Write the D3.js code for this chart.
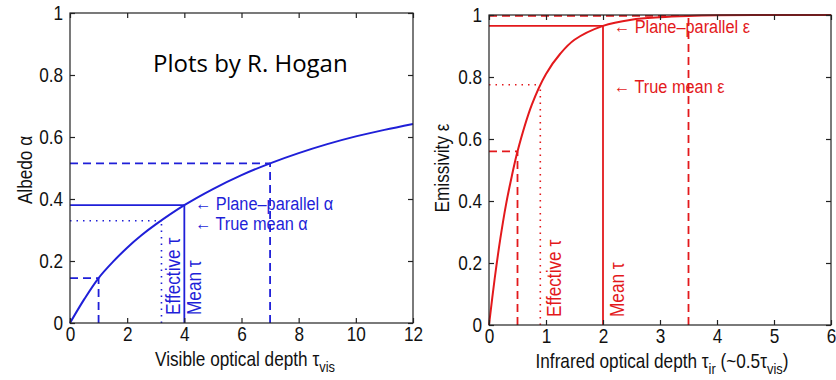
<!DOCTYPE html>
<html>
<head>
<meta charset="utf-8">
<script src="https://cdn.jsdelivr.net/npm/d3@7"></script>
<style>
  body { margin: 0; background: #fff; }
  svg text { font-family: "Liberation Sans", Arial, sans-serif; }
</style>
</head>
<body>
<div id="chart"></div>
<script>
// ---- data ----
const albedoTau = [0, 0.5, 1, 1.5, 2, 2.5, 3, 4, 5, 6, 7, 8, 9, 10, 11, 12];
const albedoVal = [0, 0.077, 0.145, 0.197, 0.243, 0.283, 0.318, 0.38, 0.432, 0.477, 0.515, 0.548, 0.577, 0.602, 0.623, 0.642];

const emisTau = [0, 0.1, 0.2, 0.3, 0.4, 0.5, 0.75, 1, 1.25, 1.5, 2, 2.5, 3, 3.5, 4, 5, 6];
const emisVal = [0, 0.15, 0.28, 0.39, 0.48, 0.56, 0.71, 0.81, 0.875, 0.92, 0.965, 0.985, 0.993, 0.997, 0.999, 1, 1];

const xTicksVis = [0, 2, 4, 6, 8, 10, 12];
const xTicksIr = [0, 1, 2, 3, 4, 5, 6];
const yTicks = [0, 0.2, 0.4, 0.6, 0.8, 1];

// guide lines: [tau, value, style]
const albedoGuides = [[1, 0.145, 'dash'], [7, 0.515, 'dash'], [4, 0.38, 'solid'], [3.2, 0.33, 'dot']];
const emisGuides = [[0.5, 0.56, 'dash'], [3.5, 0.997, 'dash'], [2, 0.965, 'solid'], [0.9, 0.775, 'dot']];

const SX = 0.86; // the original text is a bit narrow
const FS = 20;

const svg = d3.select('#chart').append('svg')
    .attr('width', 836)
    .attr('height', 380);

function drawPanel(cfg) {
    const x = d3.scaleLinear().domain(cfg.xDomain).range([cfg.left, cfg.right]);
    const y = d3.scaleLinear().domain([0, 1]).range([cfg.bottom, cfg.top]);
    const g = svg.append('g');
    const dash = { dash: '8,5', dot: '1.5,5', solid: null };

    // guides
    cfg.guides.forEach(([t, v, s]) => {
        g.append('line')
            .attr('x1', x(0)).attr('x2', x(t))
            .attr('y1', y(v)).attr('y2', y(v))
            .attr('stroke', cfg.color).attr('stroke-width', s === 'dot' ? 1.6 : 1.8)
            .attr('stroke-dasharray', dash[s]);
        g.append('line')
            .attr('x1', x(t)).attr('x2', x(t))
            .attr('y1', y(0)).attr('y2', y(v))
            .attr('stroke', cfg.color).attr('stroke-width', s === 'dot' ? 1.6 : 1.8)
            .attr('stroke-dasharray', dash[s]);
    });

    // curve
    const line = d3.line()
        .x((d, i) => x(cfg.xs[i]))
        .y(d => y(d))
        .curve(d3.curveCatmullRom);
    g.append('path')
        .datum(cfg.ys)
        .attr('d', line)
        .attr('fill', 'none')
        .attr('stroke', cfg.color)
        .attr('stroke-width', 2);

    // box and inward ticks
    g.append('rect')
        .attr('x', cfg.left).attr('y', cfg.top)
        .attr('width', cfg.right - cfg.left).attr('height', cfg.bottom - cfg.top)
        .attr('fill', 'none').attr('stroke', '#222').attr('stroke-width', 1.2);

    const axB = g.append('g').attr('transform', `translate(0,${cfg.bottom})`)
        .call(d3.axisBottom(x).tickValues(cfg.xTicks).tickSizeInner(-5).tickSizeOuter(0).tickPadding(4).tickFormat(d3.format('')));
    const axT = g.append('g').attr('transform', `translate(0,${cfg.top})`)
        .call(d3.axisTop(x).tickValues(cfg.xTicks).tickSizeInner(-5).tickSizeOuter(0).tickFormat(''));
    const axL = g.append('g').attr('transform', `translate(${cfg.left},0)`)
        .call(d3.axisLeft(y).tickValues(yTicks).tickSizeInner(-5).tickSizeOuter(0).tickPadding(8).tickFormat(d3.format('')));
    const axR = g.append('g').attr('transform', `translate(${cfg.right},0)`)
        .call(d3.axisRight(y).tickValues(yTicks).tickSizeInner(-5).tickSizeOuter(0).tickFormat(''));
    [axB, axT, axL, axR].forEach(a => {
        a.select('.domain').remove();
        a.selectAll('line').attr('stroke', '#222').attr('stroke-width', 1.2);
        a.selectAll('text').attr('font-size', 20).attr('fill', '#111')
            .attr('transform', `scale(${SX},1)`)
            .style('font-family', '"Liberation Sans", Arial, sans-serif');
    });

    // annotations
    cfg.notes.forEach(n => {
        g.append('text')
            .attr('transform', `translate(${x(n.t)},${y(n.v)}) scale(${SX},1)`)
            .attr('dy', '0.35em')
            .attr('font-size', 19).attr('fill', cfg.color)
            .text(n.text);
    });
    cfg.vnotes.forEach(n => {
        g.append('text')
            .attr('transform', `translate(${x(n.t)},${cfg.bottom - 8}) rotate(-90) scale(${SX},1)`)
            .attr('font-size', FS).attr('fill', cfg.color)
            .text(n.text);
    });

    // axis titles
    g.append('text')
        .attr('transform', `translate(${cfg.yTitleX},${cfg.yTitleY}) rotate(-90) scale(${SX},1)`)
        .attr('text-anchor', 'middle').attr('font-size', FS).attr('fill', '#111')
        .text(cfg.yTitle);
    const xt = g.append('text')
        .attr('transform', `translate(${cfg.xTitleX},${cfg.bottom + 43}) scale(${SX},1)`)
        .attr('text-anchor', 'middle').attr('font-size', FS).attr('fill', '#111');
    cfg.xTitle.forEach(p => {
        xt.append('tspan')
            .attr('baseline-shift', p.sub ? -6 : 0)
            .attr('font-size', p.sub ? 15 : FS)
            .text(p.s);
    });
}

drawPanel({
    left: 70, right: 413, top: 13, bottom: 323,
    xDomain: [0, 12], xTicks: xTicksVis,
    xs: albedoTau, ys: albedoVal, guides: albedoGuides,
    color: '#1f1fd8',
    notes: [
        { t: 4.37, v: 0.385, text: '← Plane–parallel α' },
        { t: 4.37, v: 0.322, text: '← True mean α' }
    ],
    vnotes: [
        { t: 3.85, text: 'Effective τ' },
        { t: 4.57, text: 'Mean τ' }
    ],
    yTitle: 'Albedo α', yTitleX: 32, yTitleY: 170,
    xTitle: [{ s: 'Visible optical depth τ' }, { s: 'vis', sub: true }], xTitleX: 245
});

drawPanel({
    left: 489, right: 831, top: 15, bottom: 325,
    xDomain: [0, 6], xTicks: xTicksIr,
    xs: emisTau, ys: emisVal, guides: emisGuides,
    color: '#e3191c',
    notes: [
        { t: 2.19, v: 0.965, text: '← Plane–parallel ε' },
        { t: 2.19, v: 0.77, text: '← True mean ε' }
    ],
    vnotes: [
        { t: 1.27, text: 'Effective τ' },
        { t: 2.37, text: 'Mean τ' }
    ],
    yTitle: 'Emissivity ε', yTitleX: 449, yTitleY: 168,
    xTitle: [{ s: 'Infrared optical depth τ' }, { s: 'ir', sub: true }, { s: ' (~0.5τ' }, { s: 'vis', sub: true }, { s: ')' }], xTitleX: 662
});

svg.append('text')
    .attr('x', 153).attr('y', 72)
    .style('font-family', '"Open Sans", "Noto Sans", sans-serif')
    .attr('font-size', 24).attr('fill', '#000')
    .text('Plots by R. Hogan');
</script>
</body>
</html>
